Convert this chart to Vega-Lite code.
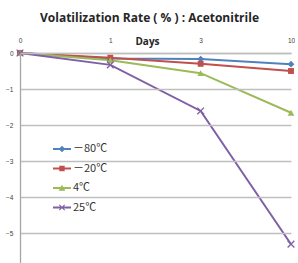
{
  "$schema": "https://vega.github.io/schema/vega-lite/v6.json",
  "width": 271,
  "height": 211,
  "padding": {"left": 5, "top": 12, "right": 0, "bottom": 0},
  "background": "white",
  "title": {"text": "Volatilization Rate ( % ) : Acetonitrile", "anchor": "middle", "frame": "group", "fontSize": 12, "font": "Open Sans", "fontWeight": "bold", "color": "#262626", "dx": -6, "dy": -7},
  "config": {"view": {"stroke": null}},
  "data": {"values": [
    {"series": "－80℃", "day": 0, "value": 0},
    {"series": "－80℃", "day": 1, "value": -0.15},
    {"series": "－80℃", "day": 3, "value": -0.17},
    {"series": "－80℃", "day": 10, "value": -0.31},
    {"series": "－20℃", "day": 0, "value": 0},
    {"series": "－20℃", "day": 1, "value": -0.13},
    {"series": "－20℃", "day": 3, "value": -0.3},
    {"series": "－20℃", "day": 10, "value": -0.5},
    {"series": "4℃", "day": 0, "value": 0},
    {"series": "4℃", "day": 1, "value": -0.2},
    {"series": "4℃", "day": 3, "value": -0.56},
    {"series": "4℃", "day": 10, "value": -1.66},
    {"series": "25℃", "day": 0, "value": 0},
    {"series": "25℃", "day": 1, "value": -0.33},
    {"series": "25℃", "day": 3, "value": -1.61},
    {"series": "25℃", "day": 10, "value": -5.31}
  ]},
  "encoding": {
    "x": {"field": "day", "type": "ordinal", "scale": {"type": "point", "padding": 0},
      "axis": {"orient": "top", "title": "Days", "titleFont": "Open Sans", "titleFontSize": 10, "titleFontWeight": "bold", "titleColor": "#262626", "titleY": -9, "titleX": 127, "titleBaseline": "alphabetic", "labelAngle": 0, "labelFontSize": 6.5, "labelColor": "#404040", "labelPadding": 10, "ticks": false, "domain": true, "domainColor": "#BFBFBF", "domainWidth": 1.3, "grid": false}},
    "y": {"field": "value", "type": "quantitative", "scale": {"domain": [-5.86, 0], "nice": false, "zero": false},
      "axis": {"title": null, "values": [0, -1, -2, -3, -4, -5], "grid": true, "gridColor": "#BFBFBF", "gridWidth": 1.3, "gridOpacity": 1, "zindex": 1, "domainColor": "#A6A6A6", "domainWidth": 1.3, "ticks": false, "labelPadding": 7, "labelFontSize": 6.5, "labelColor": "#404040"}}
  },
  "layer": [
    {"transform": [{"filter": "datum.series == '－80℃'"}], "mark": {"type": "line", "strokeWidth": 2, "color": "#4F81BD"}},
    {"transform": [{"filter": "datum.series == '－20℃'"}], "mark": {"type": "line", "strokeWidth": 2, "color": "#C0504D"}},
    {"transform": [{"filter": "datum.series == '4℃'"}], "mark": {"type": "line", "strokeWidth": 2, "color": "#9BBB59"}},
    {"transform": [{"filter": "datum.series == '25℃'"}], "mark": {"type": "line", "strokeWidth": 2, "color": "#7F5FA5"}},
    {"transform": [{"filter": "datum.series == '－80℃'"}], "mark": {"type": "point", "filled": true, "opacity": 1, "shape": "diamond", "size": 45, "color": "#4F81BD"}},
    {"transform": [{"filter": "datum.series == '－20℃'"}], "mark": {"type": "point", "filled": true, "opacity": 1, "shape": "square", "size": 35, "color": "#C0504D"}},
    {"transform": [{"filter": "datum.series == '4℃'"}], "mark": {"type": "point", "filled": true, "opacity": 1, "shape": "triangle-up", "size": 45, "color": "#9BBB59"}},
    {"transform": [{"filter": "datum.series == '25℃'"}], "mark": {"type": "point", "filled": true, "opacity": 1, "size": 45, "color": "#7F5FA5", "shape": "M-0.86,-1.14L1.14,0.86L0.86,1.14L-1.14,-0.86ZM-1.14,0.86L0.86,-1.14L1.14,-0.86L-0.86,1.14Z"}},
    {"transform": [{"filter": "datum.value > 100"}], "mark": {"type": "point", "filled": true, "opacity": 1},
      "encoding": {
        "color": {"field": "series", "type": "nominal", "scale": {"domain": ["－80℃", "－20℃", "4℃", "25℃"], "range": ["#4F81BD", "#C0504D", "#9BBB59", "#7F5FA5"]}, "legend": {"orient": "none", "legendX": 32, "legendY": 86, "title": null, "padding": 0, "symbolSize": 324, "rowPadding": 4.5, "labelOffset": 1, "labelFont": "Noto Sans CJK JP", "labelFontSize": 11, "labelColor": "#333333"}},
        "shape": {"field": "series", "type": "nominal", "scale": {"domain": ["－80℃", "－20℃", "4℃", "25℃"], "range": [
          "M-1,-0.11H1V0.11H-1ZM-0.36,0L0,-0.36L0.36,0L0,0.36Z",
          "M-1,-0.11H1V0.11H-1ZM-0.3,-0.3H0.3V0.3H-0.3Z",
          "M-1,-0.11H1V0.11H-1ZM0,-0.36L0.38,0.3L-0.38,0.3Z",
          "M-1,-0.11H1V0.11H-1ZM-0.258,-0.342L0.342,0.258L0.258,0.342L-0.342,-0.258ZM-0.342,0.258L0.258,-0.342L0.342,-0.258L-0.258,0.342Z"
        ]}, "legend": {"orient": "none", "legendX": 32, "legendY": 86, "title": null, "padding": 0, "symbolSize": 324, "rowPadding": 4.5, "labelOffset": 1, "labelFont": "Noto Sans CJK JP", "labelFontSize": 11, "labelColor": "#333333"}}
      }}
  ]
}
